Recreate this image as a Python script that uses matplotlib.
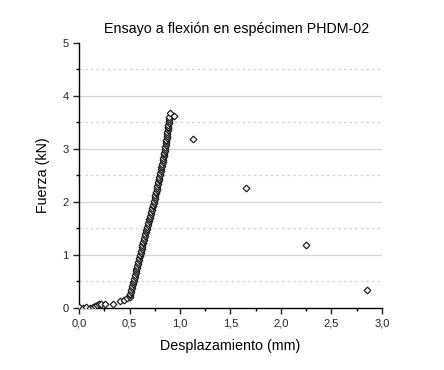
"""Ensayo a flexion - curva fuerza vs desplazamiento."""

import matplotlib
matplotlib.use("Agg")
import matplotlib.pyplot as plt
from matplotlib.ticker import FuncFormatter, MultipleLocator

# tramo inicial (asentamiento)
x_inicio = [0.00, 0.04, 0.07, 0.11, 0.14, 0.16, 0.18, 0.20, 0.22, 0.26, 0.34, 0.41, 0.45, 0.48]
y_inicio = [0.02, 0.00, 0.01, 0.00, 0.02, 0.04, 0.06, 0.07, 0.08, 0.08, 0.08, 0.12, 0.15, 0.18]

# tramo de carga
x_carga = [0.500, 0.505, 0.509, 0.514, 0.519, 0.523, 0.528, 0.533, 0.537, 0.542,
           0.547, 0.551, 0.556, 0.560, 0.565, 0.569, 0.574, 0.578, 0.583, 0.587,
           0.592, 0.597, 0.601, 0.606, 0.610, 0.615, 0.619, 0.624, 0.628, 0.633,
           0.638, 0.642, 0.647, 0.651, 0.656, 0.660, 0.665, 0.669, 0.674, 0.679,
           0.685, 0.690, 0.695, 0.700, 0.705, 0.710, 0.715, 0.720, 0.725, 0.731,
           0.736, 0.741, 0.745, 0.749, 0.753, 0.757, 0.761, 0.765, 0.769, 0.773,
           0.777, 0.781, 0.785, 0.789, 0.793, 0.797, 0.801, 0.805, 0.808, 0.812,
           0.816, 0.819, 0.823, 0.827, 0.830, 0.834, 0.837, 0.841, 0.845, 0.848,
           0.852, 0.855, 0.857, 0.860, 0.862, 0.865, 0.867, 0.870, 0.872, 0.875,
           0.877, 0.880, 0.882, 0.885, 0.887, 0.890, 0.892, 0.895]
y_carga = [0.200, 0.235, 0.270, 0.305, 0.340, 0.375, 0.410, 0.445, 0.480, 0.515,
           0.550, 0.585, 0.620, 0.655, 0.690, 0.725, 0.760, 0.795, 0.830, 0.865,
           0.900, 0.935, 0.970, 1.005, 1.040, 1.075, 1.110, 1.145, 1.180, 1.215,
           1.250, 1.285, 1.320, 1.355, 1.390, 1.425, 1.460, 1.495, 1.530, 1.565,
           1.600, 1.635, 1.670, 1.705, 1.740, 1.775, 1.810, 1.845, 1.880, 1.915,
           1.950, 1.985, 2.020, 2.055, 2.090, 2.125, 2.160, 2.195, 2.230, 2.265,
           2.300, 2.335, 2.370, 2.405, 2.440, 2.475, 2.510, 2.545, 2.580, 2.615,
           2.650, 2.685, 2.720, 2.755, 2.790, 2.825, 2.860, 2.895, 2.930, 2.965,
           3.000, 3.035, 3.070, 3.105, 3.140, 3.175, 3.210, 3.245, 3.280, 3.315,
           3.350, 3.385, 3.420, 3.455, 3.490, 3.525, 3.560, 3.595]

# pico y falla
x_falla = [0.90, 0.94, 1.13, 1.65, 2.25, 2.85]
y_falla = [3.67, 3.62, 3.19, 2.26, 1.19, 0.33]

desplazamiento = x_inicio + x_carga + x_falla
fuerza = y_inicio + y_carga + y_falla


def coma(v, pos):
    return f"{v:.1f}".replace(".", ",")


def main() -> None:
    plt.rcParams["font.family"] = ["Liberation Sans", "DejaVu Sans"]
    fig = plt.figure(figsize=(4.44, 3.70), dpi=100)
    ax = fig.add_axes([0.178, 0.168, 0.682, 0.716])

    for lv in range(1, 5):
        ax.axhline(lv, color="#d4d4d4", lw=0.9, zorder=0)
        ax.axhline(lv - 0.5, color="#d4d4d4", lw=0.9, ls=(0, (2, 2.5)), zorder=0)
    ax.axhline(4.5, color="#d4d4d4", lw=0.9, ls=(0, (2, 2.5)), zorder=0)

    ax.plot(desplazamiento, fuerza, ls="none", marker="D", ms=3.4,
            mfc="white", mec="#151515", mew=0.85, zorder=3)

    ax.set_xlim(0, 3.0)
    ax.set_ylim(0, 5)
    ax.xaxis.set_major_locator(MultipleLocator(0.5))
    ax.xaxis.set_minor_locator(MultipleLocator(0.25))
    ax.yaxis.set_major_locator(MultipleLocator(1))
    ax.yaxis.set_minor_locator(MultipleLocator(0.5))
    ax.xaxis.set_major_formatter(FuncFormatter(coma))

    for s in ["top", "right"]:
        ax.spines[s].set_visible(False)
    for s in ["left", "bottom"]:
        ax.spines[s].set_linewidth(1.0)
    ax.tick_params(which="major", length=4, width=1.0, labelsize=8, colors="#222222")
    ax.tick_params(which="minor", length=2.5, width=1.0)

    ax.set_title("Ensayo a flexión en espécimen PHDM-02", fontsize=10.3, pad=7, x=0.52)
    ax.set_xlabel("Desplazamiento (mm)", fontsize=10.3, labelpad=8)
    ax.set_ylabel("Fuerza (kN)", fontsize=10.3, labelpad=9)

    fig.savefig("out.png", dpi=100)
    plt.close(fig)


if __name__ == "__main__":
    main()
